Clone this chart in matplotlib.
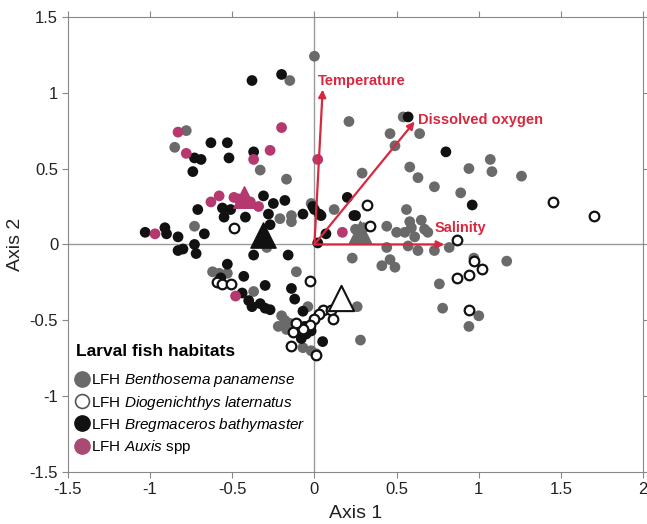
import matplotlib
matplotlib.use("Agg")
import matplotlib.pyplot as plt
from matplotlib.lines import Line2D

plt.rcParams['font.family'] = ['Liberation Sans', 'DejaVu Sans']
plt.rcParams['mathtext.fontset'] = 'custom'
plt.rcParams['mathtext.rm'] = 'Liberation Sans'
plt.rcParams['mathtext.it'] = 'Liberation Sans:italic'

# site scores per larval fish habitat (Axis 1, Axis 2)
benthosema_x = [0.00, -0.15, -0.78, -0.85, -0.33, -0.17, -0.21, -0.14, -0.14, -0.02, -0.73, -0.29,
                -0.62, -0.58, -0.53, -0.11, -0.37, -0.20, -0.04, -0.22, -0.17, -0.18, -0.15, -0.07,
                -0.02, 0.01, 0.21, 0.54, 0.64, 0.46, 0.49, 1.07, 1.08, 0.94, 1.26, 0.58, 0.63, 0.73,
                0.89, 0.29, 0.12, 0.25, 0.30, 0.44, 0.50, 0.56, 0.58, 0.59, 0.55, 0.65, 0.67, 0.69,
                0.61, 0.44, 0.57, 0.63, 0.73, 0.82, 0.23, 0.41, 0.46, 0.49, 1.17, 0.97, 0.76, 0.78,
                1.00, 0.94, 0.26, 0.28]
benthosema_y = [1.24, 1.08, 0.75, 0.64, 0.49, 0.43, 0.17, 0.19, 0.15, 0.27, 0.12, -0.02,
                -0.18, -0.19, -0.19, -0.18, -0.31, -0.47, -0.41, -0.54, -0.56, -0.50, -0.52, -0.68,
                -0.70, -0.72, 0.81, 0.84, 0.73, 0.73, 0.65, 0.56, 0.48, 0.50, 0.45, 0.51, 0.44, 0.38,
                0.34, 0.47, 0.23, 0.10, 0.11, 0.12, 0.08, 0.23, 0.15, 0.11, 0.08, 0.16, 0.10, 0.08,
                0.05, -0.02, -0.01, -0.04, -0.04, -0.02, -0.09, -0.14, -0.10, -0.15, -0.11, -0.09, -0.26, -0.42,
                -0.47, -0.54, -0.41, -0.63]

diogenichthys_x = [-0.49, 0.32, 0.34, 0.87, 1.45, 1.70, 0.97, 1.02, 0.94, 0.87, 0.94, -0.03,
                   -0.59, -0.56, -0.51, 0.05, 0.10, 0.11, 0.03, 0.00, -0.03, -0.07, -0.11, -0.13,
                   -0.14, 0.01]
diogenichthys_y = [0.11, 0.26, 0.12, 0.03, 0.28, 0.19, -0.11, -0.16, -0.20, -0.22, -0.43, -0.24,
                   -0.25, -0.26, -0.26, -0.43, -0.43, -0.49, -0.46, -0.49, -0.53, -0.56, -0.52, -0.58,
                   -0.67, -0.73]

bregmaceros_x = [-0.38, -0.20, -0.63, -0.53, -0.73, -0.69, -0.52, -0.37, -0.74, -0.31, -0.25, -0.18,
                 -0.71, -0.56, -0.51, -0.55, -0.42, -0.28, -0.27, -0.07, 0.00, 0.04, -1.03, -0.91,
                 -0.90, -0.83, -0.67, 0.07, 0.57, 0.80, 0.96, 0.20, -0.01, 0.03, 0.24, 0.25, -0.83,
                 -0.80, -0.73, -0.72, -0.37, -0.16, -0.53, -0.57, -0.43, -0.30, -0.14, -0.12, -0.44,
                 -0.40, -0.38, -0.33, -0.30, -0.27, -0.07, -0.06, -0.05, -0.02, -0.08, 0.05, 0.02]
bregmaceros_y = [1.08, 1.12, 0.67, 0.67, 0.57, 0.56, 0.57, 0.61, 0.48, 0.32, 0.27, 0.29,
                 0.23, 0.24, 0.23, 0.18, 0.18, 0.20, 0.13, 0.20, 0.23, 0.19, 0.08, 0.11,
                 0.07, 0.05, 0.07, 0.07, 0.84, 0.61, 0.26, 0.31, 0.25, 0.20, 0.19, 0.19, -0.04,
                 -0.03, 0.00, -0.06, -0.07, -0.07, -0.13, -0.22, -0.21, -0.27, -0.29, -0.36, -0.32,
                 -0.37, -0.41, -0.39, -0.42, -0.43, -0.44, -0.54, -0.59, -0.57, -0.62, -0.64, 0.01]

auxis_x = [-0.83, -0.78, -0.20, -0.37, -0.27, 0.02, -0.58, -0.63, -0.49, -0.46, -0.39, -0.34,
           -0.42, -0.97, 0.17, -0.48]
auxis_y = [0.74, 0.60, 0.77, 0.56, 0.62, 0.56, 0.32, 0.28, 0.31, 0.30, 0.28, 0.25,
           0.27, 0.07, 0.08, -0.34]

# group centroids
centroid_x = [0.28, 0.16, -0.31, -0.43]
centroid_y = [0.08, -0.35, 0.06, 0.31]

# environmental vectors
vector_names = ['Temperature', 'Dissolved oxygen', 'Salinity']
vector_x = [0.05, 0.61, 0.79]
vector_y = [1.02, 0.81, 0.0]
label_x = [0.02, 0.63, 0.73]
label_y = [1.08, 0.82, 0.11]

gray = '#6a6a6a'
black = '#111111'
mag = '#b5386e'
red = '#d8283f'

fig = plt.figure(figsize=(6.47, 5.24), dpi=100)
ax = fig.add_axes([0.105, 0.099, 0.889, 0.869])

ax.axhline(0, color='#9a9a9a', lw=1, zorder=0)
ax.axvline(0, color='#9a9a9a', lw=1, zorder=0)

ax.scatter(benthosema_x, benthosema_y, s=60, color=gray, edgecolors='none', zorder=2)
ax.scatter(bregmaceros_x, bregmaceros_y, s=60, color=black, edgecolors='none', zorder=3)
ax.scatter(diogenichthys_x, diogenichthys_y, s=48, facecolors='white', edgecolors=black,
           linewidths=1.6, zorder=4)
ax.scatter(auxis_x, auxis_y, s=60, color=mag, edgecolors='none', zorder=4)

ax.scatter(centroid_x[0], centroid_y[0], marker='^', s=260, color=gray, zorder=5)
ax.scatter(centroid_x[1], centroid_y[1], marker='^', s=330, facecolors='white',
           edgecolors=black, linewidths=1.5, zorder=5)
ax.scatter(centroid_x[2], centroid_y[2], marker='^', s=330, color=black, zorder=5)
ax.scatter(centroid_x[3], centroid_y[3], marker='^', s=240, color=mag, zorder=5)

for name, vx, vy, lx, ly in zip(vector_names, vector_x, vector_y, label_x, label_y):
    ax.annotate('', xy=(vx, vy), xytext=(0, 0),
                arrowprops=dict(arrowstyle='-|>', color=red, lw=1.6, mutation_scale=11,
                                shrinkA=0, shrinkB=0), zorder=6)
    ax.text(lx, ly, name, color=red, fontsize=10.5, fontweight='bold', va='center', ha='left',
            zorder=7)

ax.set_xlim(-1.5, 2)
ax.set_ylim(-1.5, 1.5)
ax.set_xticks([-1.5, -1, -0.5, 0, 0.5, 1, 1.5, 2])
ax.set_xticklabels(['-1.5', '-1', '-0.5', '0', '0.5', '1', '1.5', '2'])
ax.set_yticks([-1.5, -1, -0.5, 0, 0.5, 1, 1.5])
ax.set_yticklabels(['-1.5', '-1', '-0.5', '0', '0.5', '1', '1.5'])
ax.tick_params(direction='out', length=4, color='#888888', labelsize=12, labelcolor='#222222',
               top=True, right=True, pad=3)
for sp in ax.spines.values():
    sp.set_color('#888888')
ax.set_xlabel('Axis 1', fontsize=14, labelpad=6, color='#222222')
ax.set_ylabel('Axis 2', fontsize=14, labelpad=4, color='#222222')

handles = [
    Line2D([], [], marker='o', ls='', ms=11, color=gray, mec=gray),
    Line2D([], [], marker='o', ls='', ms=10, mfc='white', mec='#555555', mew=1.2),
    Line2D([], [], marker='o', ls='', ms=11, color=black, mec=black),
    Line2D([], [], marker='o', ls='', ms=11, color='#a84a72', mec='#a84a72'),
]
labels = [r'LFH $\it{Benthosema\ panamense}$',
          r'LFH $\it{Diogenichthys\ laternatus}$',
          r'LFH $\it{Bregmaceros\ bathymaster}$',
          r'LFH $\it{Auxis}$ spp']
leg = ax.legend(handles, labels, loc='lower left', bbox_to_anchor=(-0.01, 0.005), frameon=False,
                fontsize=11, handlelength=0.8, handletextpad=0.2, labelspacing=0.28,
                title='Larval fish habitats', alignment='left',
                title_fontproperties={'weight': 'bold', 'size': 12.5})
leg._legend_box.sep = 9

fig.savefig('out.png', dpi=100)
